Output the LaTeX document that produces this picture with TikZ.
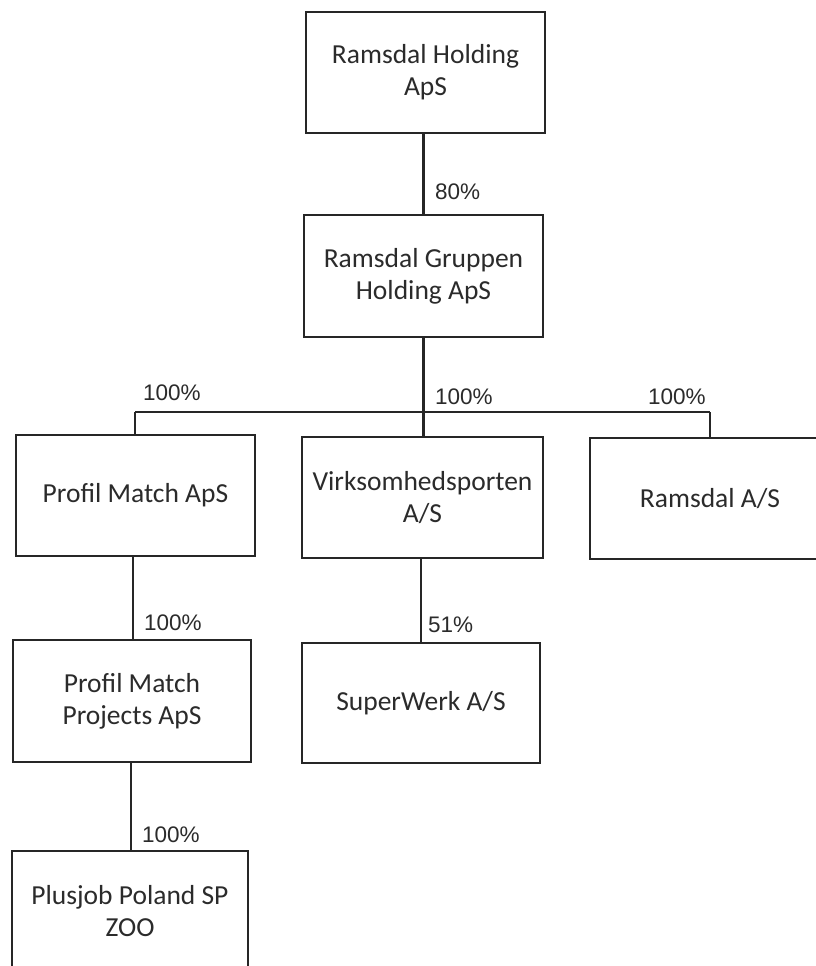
\documentclass[tikz,border=0pt]{standalone}
\usepackage{fontspec}
\setmainfont{Carlito}
\newfontfamily\pctfont{Liberation Sans}
\definecolor{ink}{HTML}{2B2B2B}
\definecolor{edge}{HTML}{262626}
\begin{document}
\begin{tikzpicture}[x=1pt,y=-1pt,
  box/.style={draw=edge,line width=2.2pt,fill=white,inner sep=0pt,align=center,text=ink,
    font=\fontsize{27.5}{32}\selectfont},
  pct/.style={anchor=west,inner sep=0pt,text=ink,font=\pctfont\fontsize{22.5}{24}\selectfont},
  conn/.style={draw=edge,line width=2.2pt}]
\clip (0,0) rectangle (816,966);
\fill[white] (0,0) rectangle (816,966);
% boxes
\node[box,minimum width=239pt,minimum height=121pt] (b1) at (425.5,72.5) {Ramsdal Holding\\ApS};
\node[box,minimum width=239pt,minimum height=122pt] (b2) at (423.5,276) {Ramsdal Gruppen\\Holding ApS};
\node[box,minimum width=239pt,minimum height=121pt] (pm) at (135.5,495.5) {Profil Match ApS};
\node[box,minimum width=241pt,minimum height=121pt] (virk) at (422.5,497.5) {Virksomhedsporten\\A/S};
\node[box,minimum width=240pt,minimum height=121pt] (ra) at (710,498.5) {Ramsdal A/S};
\node[box,minimum width=238pt,minimum height=122pt] (pmp) at (132,701) {Profil Match\\Projects ApS};
\node[box,minimum width=238pt,minimum height=120pt] (sw) at (421,703) {SuperWerk A/S};
\node[box,minimum width=236pt,minimum height=121pt] (pj) at (130,911.5) {Plusjob Poland SP\\ZOO};
% bus
\coordinate (busL) at (135,412);
\coordinate (busR) at (710,412);
\coordinate (busM) at (423.5,412);
% connectors
\draw[conn] (b1.south -| busM) -- (b2.north -| busM);
\draw[conn] (b2.south -| busM) -- (busM);
\draw[conn] (busL) -- (busR);
\draw[conn] (busL) -- (pm.north -| busL);
\draw[conn] (busM) -- (virk.north -| busM);
\draw[conn] (busR) -- (ra.north -| busR);
\draw[conn] (pm.south -| 133,0) -- (pmp.north -| 133,0);
\draw[conn] (pmp.south -| 131,0) -- (pj.north -| 131,0);
\draw[conn] (virk.south -| 421,0) -- (sw.north -| 421,0);
% labels
\node[pct] (l1) at (435,192) {80\%};
\node[pct] (l2) at (435,397) {100\%};
\node[pct] (l3) at (143,393) {100\%};
\node[pct] (l4) at (648,397) {100\%};
\node[pct] (l5) at (144,623) {100\%};
\node[pct] (l6) at (428,625) {51\%};
\node[pct] (l7) at (142,835) {100\%};
\end{tikzpicture}
\end{document}
